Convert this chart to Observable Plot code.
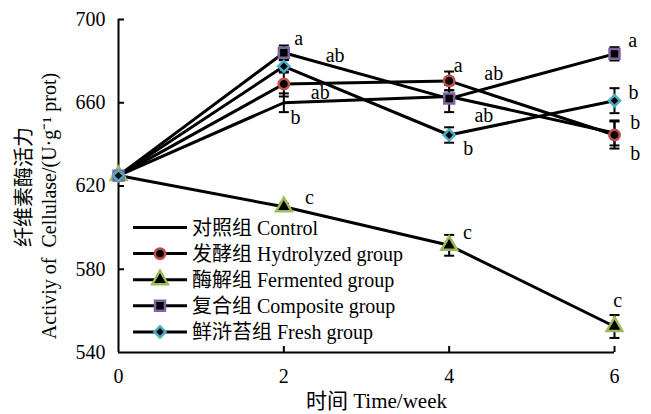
<!DOCTYPE html>
<html>
<head>
<meta charset="utf-8">
<script src="https://cdn.jsdelivr.net/npm/d3@7"></script>
<script src="https://cdn.jsdelivr.net/npm/@observablehq/plot@0.6"></script>
<style>
  html, body { margin: 0; padding: 0; background: #fff; }
  #chart { width: 651px; height: 414px; }
  #chart svg text { font-family: "Liberation Serif", "Times New Roman", "Noto Sans CJK SC", serif !important; }
</style>
</head>
<body>
<div id="chart"></div>
<script>
// ---- data ----
const weeks = [0, 2, 4, 6];
const seriesNames = ["对照组 Control", "发酵组 Hydrolyzed group", "酶解组 Fermented group", "复合组 Composite group", "鲜浒苔组 Fresh group"];
const control    = [625, 660, 663, 645.5];
const hydrolyzed = [625, 669, 670.5, 644.5];
const fermented  = [625, 610, 591.5, 552.5];
const composite  = [625, 684, 662, 683.5];
const fresh      = [625, 677.5, 644.5, 661];
const controlErr    = [0, 4.5, 3, 6];
const hydrolyzedErr = [0, 6, 4.5, 6.5];
const fermentedErr  = [0, 1.5, 5, 5.5];
const compositeErr  = [0, 3.5, 6.5, 3.2];
const freshErr      = [0, 3, 3.7, 6];
const yTicks = [540, 580, 620, 660, 700];
const xTicks = [0, 2, 4, 6];
// significance letters (text, week, value)
const labelText  = ["a", "ab", "ab", "b", "a", "ab", "ab", "b", "a", "b", "b", "b", "c", "c", "c"];
const labelWeek  = [2.18, 2.62, 2.44, 2.14, 4.11, 4.54, 4.42, 4.23, 6.22, 6.23, 6.25, 6.25, 2.31, 4.22, 6.04];
const labelValue = [691, 682.7, 665, 653, 678, 674, 654, 638, 690, 665, 650.5, 635.6, 614.5, 597.6, 565];
const yTitleZh = "纤维素酶活力";
const yTitleEn = "Activiy of  Cellulase/(U·g⁻¹ prot)";
const xTitle = "时间 Time/week";

// ---- styles ----
const values = [control, hydrolyzed, fermented, composite, fresh];
const errs = [controlErr, hydrolyzedErr, fermentedErr, compositeErr, freshErr];
const symbols = [null, "circle", "triangle", "square", "diamond2"];
const strokes = [null, "#c0504d", "#9bbb59", "#8064a2", "#4bacc6"];
const symR = [0, 5.2, 5.8, 5.6, 5];

const rows = [];
seriesNames.forEach((s, i) => weeks.forEach((w, j) => rows.push({series: s, idx: i, week: w, v: values[i][j], e: errs[i][j]})));
const errRows = rows.filter(d => d.e > 0);
const labels = labelText.map((t, i) => ({t, x: labelWeek[i], y: labelValue[i]}));

const capSymbol = { draw(ctx) { ctx.moveTo(-5, 0); ctx.lineTo(5, 0); } };
const font = "Liberation Serif, Times New Roman, Noto Sans CJK SC, serif";

const markerMarks = [];
for (let i = 1; i < seriesNames.length; i++) {
  markerMarks.push(Plot.dot(rows.filter(d => d.idx === i), {
    x: "week", y: "v", symbol: () => symbols[i], r: symR[i],
    fill: "black", stroke: strokes[i], strokeWidth: 2.5
  }));
}

const plot = Plot.plot({
  width: 651, height: 414,
  marginLeft: 118, marginRight: 37, marginTop: 19, marginBottom: 62,
  style: { fontFamily: font, fontSize: "20px", background: "#fff", color: "#000", overflow: "visible" },
  x: { domain: [0, 6], axis: null },
  y: { domain: [540, 700], axis: null },
  symbol: { type: "identity" },
  marks: [
    Plot.ruleX([0], { y1: 540, y2: 700, strokeWidth: 2 }),
    Plot.ruleY([540], { x1: 0, x2: 6, strokeWidth: 2 }),
    Plot.tickY(yTicks.slice(1), { y: d => d, insetRight: 490, strokeWidth: 2 }),
    Plot.tickX(xTicks.slice(1), { x: d => d, insetTop: 327, strokeWidth: 2 }),
    Plot.axisY({ ticks: yTicks, tickSize: 0, tickPadding: 13, fontSize: 20, tickFormat: d => String(d) }),
    Plot.axisX({ ticks: xTicks, tickSize: 0, tickPadding: 16, fontSize: 20, tickFormat: d => String(d) }),
    Plot.line(rows, { x: "week", y: "v", z: "series", stroke: "black", strokeWidth: 3, strokeLinejoin: "round" }),
    Plot.ruleX(errRows, { x: "week", y1: d => d.v - d.e, y2: d => d.v + d.e, strokeWidth: 2 }),
    Plot.dot(errRows, { x: "week", y: d => d.v - d.e, symbol: () => capSymbol, fill: "none", stroke: "black", strokeWidth: 2 }),
    Plot.dot(errRows, { x: "week", y: d => d.v + d.e, symbol: () => capSymbol, fill: "none", stroke: "black", strokeWidth: 2 }),
    ...markerMarks,
    Plot.text(labels, { x: "x", y: "y", text: "t", fontSize: 20 }),
    Plot.text([yTitleZh], { text: d => d, frameAnchor: "left", textAnchor: "middle", lineAnchor: "middle", rotate: -90, dx: -94, dy: 1, fontSize: 20 }),
    Plot.text([yTitleEn], { text: d => d, frameAnchor: "left", textAnchor: "middle", lineAnchor: "middle", rotate: -90, dx: -69, dy: 20, fontSize: 20 }),
    Plot.text([xTitle], { text: d => d, frameAnchor: "bottom", textAnchor: "middle", lineAnchor: "middle", dx: 10, dy: 49, fontSize: 21 })
  ]
});

// ---- legend ----
const svg = d3.select(plot);
const lg = svg.append("g").attr("font-family", font).attr("font-size", 20).attr("text-anchor", "start");
const typeMap = { circle: d3.symbolCircle, triangle: d3.symbolTriangle, square: d3.symbolSquare, diamond2: d3.symbolDiamond2 };
seriesNames.forEach((name, i) => {
  const y = 227.5 + i * 26.1;
  lg.append("line").attr("x1", 133).attr("x2", 187).attr("y1", y).attr("y2", y)
    .attr("stroke", "black").attr("stroke-width", 3);
  if (symbols[i]) {
    lg.append("path").attr("transform", `translate(160,${y})`)
      .attr("d", d3.symbol(typeMap[symbols[i]], Math.PI * symR[i] * symR[i])())
      .attr("fill", "black").attr("stroke", strokes[i]).attr("stroke-width", 2.5);
  }
  lg.append("text").attr("x", 192).attr("y", y).attr("dy", "0.35em").attr("text-anchor", "start").text(name);
});

document.getElementById("chart").appendChild(plot);
</script>
</body>
</html>
